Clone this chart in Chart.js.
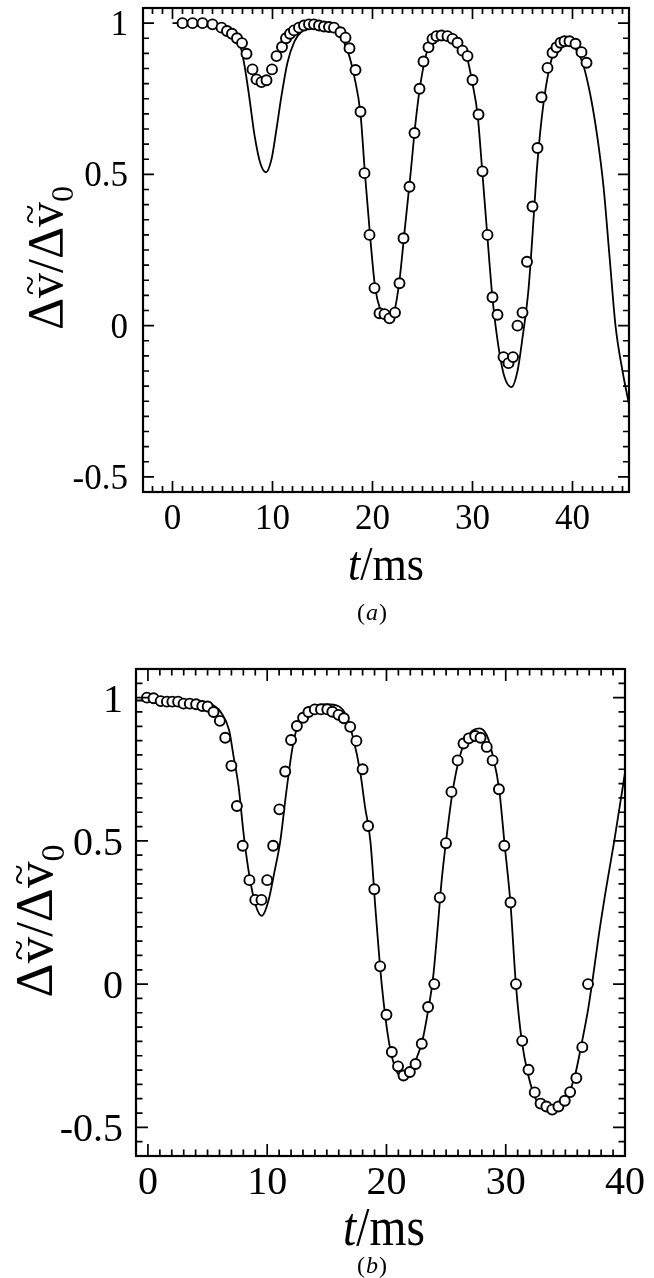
<!DOCTYPE html>
<html><head><meta charset="utf-8">
<script src="https://cdn.jsdelivr.net/npm/chart.js@4.4.1/dist/chart.umd.min.js"></script>
<style>
html,body{margin:0;padding:0;background:#fff;}
body{width:654px;height:1278px;position:relative;overflow:hidden;}
.wrap{position:absolute;left:0;width:654px;}
canvas{display:block;}
</style></head><body>
<div class="wrap" style="top:0;height:640px"><canvas id="ca" width="654" height="640"></canvas></div>
<div class="wrap" style="top:640px;height:638px"><canvas id="cb" width="654" height="638"></canvas></div>
<script>
// ---------- data: panel (a) ----------
const timeA = [1.0, 2.0, 3.0, 4.0, 4.9, 5.45, 5.95, 6.45, 6.95, 7.4, 8.0, 8.4, 8.9, 9.4, 9.95, 10.4, 10.95, 11.35, 11.75, 12.15, 12.65, 13.15, 13.65, 14.15, 14.65, 15.15, 15.65, 16.15, 16.8, 17.3, 17.7, 18.3, 18.8, 19.2, 19.7, 20.2, 20.7, 21.2, 21.7, 22.25, 22.7, 23.1, 23.7, 24.2, 24.7, 25.1, 25.6, 26.0, 26.4, 26.9, 27.5, 28.0, 28.5, 29.0, 29.5, 30.0, 30.6, 31.0, 31.5, 32.0, 32.5, 33.1, 33.6, 34.05, 34.5, 35.0, 35.45, 36.0, 36.5, 36.9, 37.5, 38.0, 38.4, 38.8, 39.2, 39.7, 40.3, 40.9, 41.4];
const measA = [1.0, 1.0, 1.0, 0.996, 0.985, 0.974, 0.965, 0.95, 0.934, 0.899, 0.847, 0.814, 0.805, 0.811, 0.847, 0.891, 0.921, 0.95, 0.965, 0.976, 0.985, 0.992, 0.996, 0.996, 0.992, 0.989, 0.987, 0.985, 0.97, 0.952, 0.917, 0.845, 0.707, 0.504, 0.30, 0.124, 0.041, 0.038, 0.024, 0.043, 0.14, 0.289, 0.459, 0.637, 0.783, 0.873, 0.920, 0.948, 0.957, 0.959, 0.957, 0.948, 0.935, 0.909, 0.891, 0.812, 0.698, 0.510, 0.30, 0.094, 0.036, -0.104, -0.124, -0.104, 0.0, 0.043, 0.211, 0.394, 0.587, 0.755, 0.852, 0.902, 0.920, 0.935, 0.940, 0.940, 0.932, 0.904, 0.869];
const fitTimeA = [0, 2, 4, 5, 6, 6.7, 7.2, 7.7, 8.2, 8.8, 9.35, 9.9, 10.4, 10.9, 11.5, 12.2, 13, 14, 15, 16, 16.8, 17.5, 18.2, 18.8, 19.25, 19.75, 20.25, 20.8, 21.5, 22.2, 22.7, 23.2, 23.8, 24.3, 24.8, 25.4, 26.2, 27.2, 28.2, 29.0, 29.5, 30.0, 30.5, 31.0, 31.5, 32.0, 32.6, 33.2, 33.9, 34.5, 35.0, 35.6, 36.0, 36.4, 36.9, 37.5, 38.2, 39.0, 39.5, 40.2, 41.0, 41.8, 42.5, 43.1, 43.7, 44.3, 45.0, 45.65];
const fitA = [1.0, 1.0, 0.998, 0.99, 0.97, 0.935, 0.86, 0.75, 0.63, 0.535, 0.507, 0.55, 0.65, 0.76, 0.87, 0.94, 0.975, 0.985, 0.985, 0.975, 0.955, 0.91, 0.82, 0.70, 0.5, 0.3, 0.13, 0.05, 0.015, 0.05, 0.15, 0.31, 0.5, 0.67, 0.8, 0.9, 0.95, 0.962, 0.95, 0.91, 0.88, 0.80, 0.70, 0.5, 0.29, 0.09, -0.07, -0.17, -0.203, -0.15, -0.04, 0.12, 0.3, 0.5, 0.68, 0.82, 0.91, 0.935, 0.937, 0.92, 0.87, 0.76, 0.62, 0.46, 0.23, 0.0, -0.15, -0.26];
const xTicksA = [0, 10, 20, 30, 40];
const yTicksA = [-0.5, 0, 0.5, 1];
const yLabelsA = ['-0.5', '0', '0.5', '1'];

// ---------- data: panel (b) ----------
const timeB = [-0.08, 0.47, 1.07, 1.59, 2.05, 2.53, 2.99, 3.51, 4.04, 4.56, 5.01, 5.5, 6.03, 6.48, 7.0, 7.46, 7.95, 8.51, 9.0, 9.52, 10.0, 10.5, 11.02, 11.51, 12.0, 12.49, 13.01, 13.46, 13.99, 14.51, 15.04, 15.46, 15.98, 16.43, 16.96, 17.48, 18.0, 18.46, 18.98, 19.47, 20.0, 20.45, 20.97, 21.43, 21.96, 22.44, 22.96, 23.49, 24.01, 24.47, 24.99, 25.45, 25.97, 26.46, 26.91, 27.44, 27.89, 28.41, 28.9, 29.43, 29.88, 30.4, 30.86, 31.38, 31.91, 32.43, 32.92, 33.41, 33.9, 34.42, 34.95, 35.4, 35.92, 36.42, 36.9];
const measB = [1.0, 0.998, 0.988, 0.986, 0.986, 0.986, 0.979, 0.979, 0.977, 0.971, 0.969, 0.95, 0.919, 0.86, 0.762, 0.622, 0.483, 0.363, 0.294, 0.294, 0.363, 0.483, 0.61, 0.742, 0.852, 0.901, 0.93, 0.95, 0.959, 0.959, 0.959, 0.951, 0.94, 0.928, 0.898, 0.849, 0.75, 0.552, 0.331, 0.062, -0.107, -0.237, -0.287, -0.319, -0.307, -0.279, -0.208, -0.08, 0.0, 0.302, 0.492, 0.671, 0.781, 0.84, 0.858, 0.866, 0.86, 0.828, 0.781, 0.68, 0.483, 0.285, 0.0, -0.198, -0.299, -0.378, -0.417, -0.427, -0.438, -0.427, -0.407, -0.377, -0.328, -0.22, 0.0];
const fitTimeB = [-1.0, 0, 2, 4, 5, 5.6, 6.1, 6.8, 7.2, 7.6, 8.05, 8.5, 9.0, 9.55, 10.1, 10.6, 11.1, 11.6, 12.1, 12.6, 13.2, 14, 15, 16, 16.6, 17.2, 17.8, 18.2, 18.65, 19.1, 19.6, 20.2, 20.8, 21.45, 22.1, 22.6, 23.0, 23.5, 23.9, 24.3, 24.6, 25.0, 25.5, 26.0, 26.6, 27.2, 27.8, 28.4, 28.9, 29.45, 29.9, 30.4, 30.85, 31.35, 31.9, 32.5, 33.2, 33.9, 34.6, 35.2, 35.8, 36.4, 36.9, 37.3, 37.8, 38.4, 39.1, 40.0];
const fitB = [0.99, 0.99, 0.99, 0.988, 0.983, 0.97, 0.95, 0.887, 0.79, 0.69, 0.515, 0.38, 0.28, 0.238, 0.29, 0.39, 0.5, 0.67, 0.82, 0.91, 0.955, 0.972, 0.977, 0.97, 0.94, 0.86, 0.74, 0.62, 0.5, 0.25, 0.0, -0.2, -0.3, -0.322, -0.3, -0.25, -0.2, -0.09, 0.02, 0.2, 0.35, 0.5, 0.66, 0.77, 0.85, 0.885, 0.893, 0.87, 0.8, 0.68, 0.49, 0.28, 0.0, -0.2, -0.32, -0.4, -0.435, -0.444, -0.43, -0.39, -0.32, -0.2, -0.09, 0.02, 0.17, 0.33, 0.5, 0.738];
const xTicksB = [0, 10, 20, 30, 40];
const yTicksB = [-0.5, 0, 0.5, 1];
const yLabelsB = ['-0.5', '0', '0.5', '1'];

// ---------- helpers ----------
const SERIF = '"Liberation Serif", "Times New Roman", serif';
function pts(xs, ys) { return xs.map((v, i) => ({x: v, y: ys[i]})); }

function drawXTitle(ctx, xc, yBase, size, sx) {
  ctx.save();
  ctx.translate(xc, yBase);
  ctx.scale(sx, 1);
  ctx.textBaseline = 'alphabetic'; ctx.textAlign = 'left';
  ctx.font = 'italic ' + size + 'px ' + SERIF;
  const w1 = ctx.measureText('t').width;
  ctx.font = size + 'px ' + SERIF;
  const w2 = ctx.measureText('/ms').width;
  let x = -(w1 + w2) / 2;
  ctx.font = 'italic ' + size + 'px ' + SERIF;
  ctx.fillText('t', x, 0);
  ctx.font = size + 'px ' + SERIF;
  ctx.fillText('/ms', x + w1, 0);
  ctx.restore();
}
function drawCaption(ctx, xc, yBase, size, letter) {
  ctx.save();
  ctx.textBaseline = 'alphabetic'; ctx.textAlign = 'left';
  const fU = size + 'px ' + SERIF, fI = 'italic ' + size + 'px ' + SERIF;
  ctx.font = fU; const wp = ctx.measureText('(').width, wq = ctx.measureText(')').width;
  ctx.font = fI; const wl = ctx.measureText(letter).width;
  let x = xc - (wp + wl + wq) / 2;
  ctx.font = fU; ctx.fillText('(', x, yBase);
  ctx.font = fI; ctx.fillText(letter, x + wp + 1, yBase);
  ctx.font = fU; ctx.fillText(')', x + wp + wl + 2, yBase);
  ctx.restore();
}
function drawYTitle(ctx, xBase, yc, size) {
  ctx.save();
  ctx.translate(xBase, yc);
  ctx.rotate(-Math.PI / 2);
  ctx.textBaseline = 'alphabetic'; ctx.textAlign = 'left';
  const fU = size + 'px ' + SERIF;
  const fS = Math.round(size * 0.64) + 'px ' + SERIF;
  const fT = Math.round(size * 0.72) + 'px ' + SERIF;
  const parts = [['\u0394', fU, 0, false], ['v', fU, 0, true], ['/', fU, 0, false], ['\u0394', fU, 0, false], ['v', fU, 0, true], ['0', fS, size * 0.22, false]];
  let total = 0;
  const ws = parts.map(p => { ctx.font = p[1]; const w = ctx.measureText(p[0]).width; total += w; return w; });
  let x = -total / 2;
  parts.forEach((p, i) => {
    ctx.font = p[1];
    ctx.fillText(p[0], x, p[2]);
    if (p[3]) {
      ctx.font = fT;
      ctx.textAlign = 'center';
      ctx.fillText('~', x + ws[i] / 2, -size * 0.40);
      ctx.textAlign = 'left';
    }
    x += ws[i];
  });
  ctx.restore();
}

function framePlugin(c) {
  return {
    id: 'frame',
    afterDraw(chart) {
      const ctx = chart.ctx, a = chart.chartArea, xs = chart.scales.x, ys = chart.scales.y;
      ctx.save();
      ctx.strokeStyle = '#000';
      ctx.lineWidth = 1.7;
      ctx.beginPath();
      for (let v = Math.ceil(xs.min); v <= Math.floor(xs.max); v++) {
        const px = xs.getPixelForValue(v);
        if (px < a.left + 2 || px > a.right - 2) continue;
        const L = c.xTicks.includes(v) ? c.major : c.minor;
        ctx.moveTo(px, a.bottom); ctx.lineTo(px, a.bottom - L);
        ctx.moveTo(px, a.top); ctx.lineTo(px, a.top + L);
      }
      for (let k = Math.ceil(ys.min / 0.05 - 1e-6); k <= Math.floor(ys.max / 0.05 + 1e-6); k++) {
        const v = k * 0.05;
        const py = ys.getPixelForValue(v);
        if (py < a.top + 2 || py > a.bottom - 2) continue;
        const L = (k % 10 === 0) ? c.major : c.minor;
        ctx.moveTo(a.left, py); ctx.lineTo(a.left + L, py);
        ctx.moveTo(a.right, py); ctx.lineTo(a.right - L, py);
      }
      ctx.stroke();
      ctx.lineWidth = 2.2;
      ctx.strokeRect(a.left, a.top, a.right - a.left, a.bottom - a.top);
      ctx.fillStyle = '#000';
      ctx.font = c.tickSize + 'px ' + SERIF;
      ctx.textBaseline = 'alphabetic';
      ctx.textAlign = 'center';
      c.xTicks.forEach(v => ctx.fillText(String(v), xs.getPixelForValue(v), a.bottom + c.xLabDy));
      ctx.textAlign = 'right';
      c.yTicks.forEach((v, i) => ctx.fillText(c.yLabels[i], a.left - c.yLabDx, ys.getPixelForValue(v) + c.yLabDy));
      drawXTitle(ctx, c.xt[0], c.xt[1], c.xt[2], c.xt[3]);
      drawYTitle(ctx, c.yt[0], c.yt[1], c.yt[2]);
      drawCaption(ctx, c.cap[0], c.cap[1], c.cap[2], c.cap[3]);
      ctx.restore();
    }
  };
}

function makeChart(id, meas, fit, xr, yr, pad, yW, xH, c) {
  return new Chart(document.getElementById(id), {
    type: 'scatter',
    data: {
      datasets: [
        { label: 'measured', data: meas, showLine: false, pointStyle: 'circle', pointRadius: 5,
          pointBorderWidth: 1.9, pointBorderColor: '#000', pointBackgroundColor: '#fff', pointHoverRadius: 5 },
        { label: 'fit', data: fit, showLine: true, pointRadius: 0, borderColor: '#000', borderWidth: 1.8,
          fill: false, cubicInterpolationMode: 'monotone' }
      ]
    },
    options: {
      responsive: false, animation: false, devicePixelRatio: 1,
      layout: { padding: pad },
      plugins: { legend: { display: false }, tooltip: { enabled: false }, title: { display: false } },
      events: [],
      scales: {
        x: { type: 'linear', min: xr[0], max: xr[1], grid: { display: false }, border: { display: false },
             ticks: { display: false }, afterFit: s => { s.height = xH; } },
        y: { type: 'linear', min: yr[0], max: yr[1], grid: { display: false }, border: { display: false },
             ticks: { display: false }, afterFit: s => { s.width = yW; } }
      }
    },
    plugins: [framePlugin(c)]
  });
}

makeChart('ca', pts(timeA, measA), pts(fitTimeA, fitA), [-2.95, 45.65], [-0.55, 1.05],
  { left: 0, right: 25, top: 8, bottom: 0 }, 143, 148,
  { xTicks: xTicksA, yTicks: yTicksA, yLabels: yLabelsA, major: 11, minor: 6, tickSize: 35,
    xLabDy: 37, yLabDx: 15, yLabDy: 12, xt: [386, 580, 48, 0.92], yt: [62, 258, 50], cap: [371, 620, 24, 'a'] });

makeChart('cb', pts(timeB, measB), pts(fitTimeB, fitB), [-1.0, 40], [-0.6, 1.1],
  { left: 0, right: 29, top: 29, bottom: 0 }, 136, 122,
  { xTicks: xTicksB, yTicks: yTicksB, yLabels: yLabelsB, major: 12, minor: 6.5, tickSize: 40,
    xLabDy: 38, yLabDx: 13, yLabDy: 14, xt: [384, 605, 54, 0.88], yt: [52, 281, 53], cap: [371, 633, 24, 'b'] });
</script>
</body></html>
